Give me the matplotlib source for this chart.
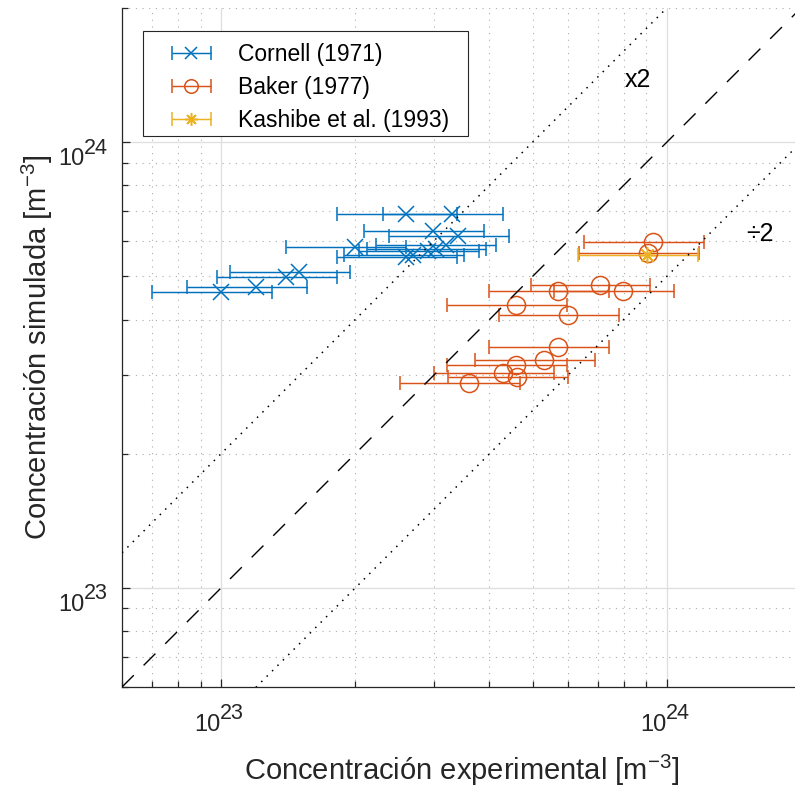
import numpy as np
import matplotlib
matplotlib.use('Agg')
import matplotlib.pyplot as plt
from matplotlib.container import ErrorbarContainer
from matplotlib.legend_handler import HandlerErrorbar
from matplotlib.patches import Rectangle
from matplotlib.ticker import NullFormatter

plt.rcParams['font.family'] = ['Liberation Sans', 'DejaVu Sans']
plt.rcParams['mathtext.fontset'] = 'custom'
plt.rcParams['mathtext.rm'] = 'Liberation Sans'
plt.rcParams['mathtext.it'] = 'Liberation Sans:italic'
plt.rcParams['mathtext.bf'] = 'Liberation Sans:bold'

# datos (m^-3)
cornell_x = [1.00e23, 1.20e23, 1.40e23, 1.50e23, 2.00e23, 2.60e23, 3.30e23,
             2.99e23, 3.40e23, 3.19e23, 2.91e23, 3.03e23, 2.70e23, 2.60e23]
cornell_y = [4.61e23, 4.73e23, 4.98e23, 5.12e23, 5.81e23, 6.89e23, 6.89e23,
             6.32e23, 6.15e23, 5.87e23, 5.69e23, 5.75e23, 5.58e23, 5.52e23]

baker_x = [9.30e23, 9.08e23, 7.07e23, 5.71e23, 7.98e23, 4.60e23, 6.01e23,
           5.71e23, 5.30e23, 4.60e23, 4.30e23, 4.61e23, 3.60e23]
baker_y = [5.98e23, 5.65e23, 4.78e23, 4.64e23, 4.64e23, 4.32e23, 4.10e23,
           3.47e23, 3.24e23, 3.17e23, 3.03e23, 2.97e23, 2.88e23]

kashibe_x = [9.02e23]
kashibe_y = [5.58e23]

REL_ERR = 0.30  # error relativo horizontal
LIMS = [6e22, 2e24]
MAJOR = [1e23, 1e24]
EXPS = ['23', '24']

C_BLUE = '#0072BD'
C_ORANGE = '#D95319'
C_YELLOW = '#EDB120'
C_AX = '#262626'

fig = plt.figure(figsize=(7.95, 7.89), dpi=100)
ax = fig.add_axes([122 / 795, 102 / 789, 679 / 795, 679 / 789])
ax.set_xscale('log')
ax.set_yscale('log')

series = [
    (cornell_x, cornell_y, C_BLUE, 'x', dict(ms=12, mew=1.1), 'Cornell (1971)'),
    (baker_x, baker_y, C_ORANGE, 'o', dict(ms=13, mew=1.1, mfc='none'), 'Baker (1977)'),
    (kashibe_x, kashibe_y, C_YELLOW, (8, 2, 0), dict(ms=12, mew=1.1), 'Kashibe et al. (1993)'),
]
handles = []
for xs, ys, col, mk, kw, lab in series:
    xs = np.array(xs)
    h = ax.errorbar(xs, ys, xerr=REL_ERR * xs, fmt='', marker=mk, ls='none', color=col,
                    ecolor=col, elinewidth=1.05, capsize=5.2, capthick=1.05, label=lab,
                    zorder=3, **kw)
    handles.append(h)

ref = np.array(LIMS)
ax.plot(ref, ref, color='k', lw=1.0, ls=(0, (12, 10)), zorder=4)
ax.plot(ref, 2 * ref, color='k', lw=1.1, ls=(0, (1, 4)), zorder=4)
ax.plot(ref, ref / 2, color='k', lw=1.1, ls=(0, (1, 4)), zorder=4)

ax.text(8.6e23, 1.38e24, 'x2', ha='center', va='center', fontsize=18, color='k')
ax.text(1.62e24, 6.22e23, '÷2', ha='center', va='center', fontsize=18, color='k')

ax.set_xlim(LIMS)
ax.set_ylim(LIMS)

ax.set_axisbelow(True)
ax.grid(True, which='major', color='#dedede', lw=0.9, ls='-')
ax.grid(True, which='minor', color='#ababab', lw=0.8, ls=(0, (1, 5)))
ax.xaxis.set_major_formatter(NullFormatter())
ax.yaxis.set_major_formatter(NullFormatter())
ax.xaxis.set_minor_formatter(NullFormatter())
ax.yaxis.set_minor_formatter(NullFormatter())

for s in ['top', 'right']:
    ax.spines[s].set_visible(False)
for s in ['left', 'bottom']:
    ax.spines[s].set_color(C_AX)
    ax.spines[s].set_linewidth(0.9)

ax.tick_params(which='both', direction='in', colors=C_AX, width=0.9)
ax.tick_params(which='major', length=6)
ax.tick_params(which='minor', length=4)

# etiquetas 10^n estilo MATLAB (exponente grande)
for v, e in zip(MAJOR, EXPS):
    ax.annotate('10', xy=(v, 0), xycoords=('data', 'axes fraction'), xytext=(0, -43.7),
                textcoords='offset pixels', ha='right', va='baseline', fontsize=17, color=C_AX)
    ax.annotate(e, xy=(v, 0), xycoords=('data', 'axes fraction'), xytext=(-1, -32.3),
                textcoords='offset pixels', ha='left', va='baseline', fontsize=15.5, color=C_AX)
    ax.annotate('10', xy=(0, v), xycoords=('axes fraction', 'data'), xytext=(-37, -23),
                textcoords='offset pixels', ha='right', va='baseline', fontsize=17, color=C_AX)
    ax.annotate(e, xy=(0, v), xycoords=('axes fraction', 'data'), xytext=(-38, -11.3),
                textcoords='offset pixels', ha='left', va='baseline', fontsize=15.5, color=C_AX)

ax.set_xlabel('Concentración experimental [m$^{\\mathdefault{-3}}$]', fontsize=21,
              color=C_AX, va='center')
ax.set_ylabel('Concentración simulada [m$^{\\mathdefault{-3}}$]', fontsize=21,
              color=C_AX, va='center')
ax.xaxis.set_label_coords(0.5, (687 - 770) / 679)
ax.yaxis.set_label_coords((37 - 122) / 679, 0.5)

# leyenda estilo MATLAB: marco dibujado aparte
leg = ax.legend(handles, [s[5] for s in series], loc='upper left',
                bbox_to_anchor=(172 / 795, 1 - 43 / 789), bbox_transform=fig.transFigure,
                frameon=False, fontsize=16.5, borderpad=0, borderaxespad=0,
                handlelength=1.7, handletextpad=1.2, labelspacing=0.44,
                markerscale=0.75,
                handler_map={ErrorbarContainer: HandlerErrorbar(xerr_size=0.85)})
for t in leg.get_texts():
    t.set_color('k')
leg.set_zorder(6)
frame = Rectangle((143 / 795, 1 - 136 / 789), (468 - 143) / 795, (136 - 31) / 789,
                  transform=fig.transFigure, facecolor='white', edgecolor=C_AX,
                  lw=0.8, zorder=5)
ax.add_artist(frame)

fig.savefig('out.png', dpi=100)
